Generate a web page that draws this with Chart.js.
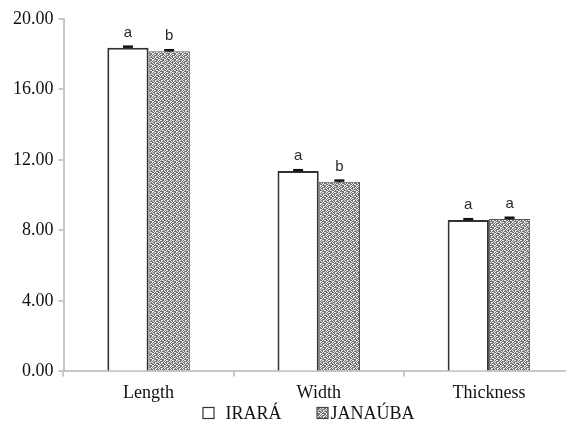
<!DOCTYPE html>
<html>
<head>
<meta charset="utf-8">
<script src="https://cdn.jsdelivr.net/npm/chart.js@4"></script>
<style>
  html, body { margin: 0; padding: 0; background: #fff; overflow: hidden; }
  #wrap { width: 590px; height: 422px; }
</style>
</head>
<body>
<div id="wrap"><canvas id="sizeChart" width="590" height="422"></canvas></div>
<script>
const categories = ['Length', 'Width', 'Thickness'];
const iraraValues = [18.37, 11.38, 8.59];
const janaubaValues = [18.17, 10.77, 8.65];
const iraraErrors = [0.06, 0.04, 0.05];
const janaubaErrors = [0.06, 0.06, 0.07];
const iraraLetters = ['a', 'a', 'a'];
const janaubaLetters = ['b', 'b', 'a'];
const yTicks = [0, 4, 8, 12, 16, 20];
const seriesNames = ['IRARÁ', 'JANAÚBA'];

// patterned fill for the second series
function makePattern() {
    const tile = document.createElement('canvas');
    tile.width = 6;
    tile.height = 6;
    const c = tile.getContext('2d');
    const map = [
        '110100',
        '101011',
        '010110',
        '111010',
        '001101',
        '110011'
    ];
    for (let y = 0; y < 6; y++) {
        for (let x = 0; x < 6; x++) {
            c.fillStyle = map[y][x] === '1' ? '#747474' : '#ececec';
            c.fillRect(x, y, 1, 1);
        }
    }
    return c.createPattern(tile, 'repeat');
}
const grayPattern = makePattern();

const serifFont = { family: '"Liberation Serif", "DejaVu Serif", serif', size: 18 };

// small error caps + significance letters on top of each bar, plus legend row
const errorAndLetters = {
    id: 'errorAndLetters',
    afterDatasetsDraw(chart) {
        const ctx = chart.ctx;
        const yScale = chart.scales.y;
        const errs = [iraraErrors, janaubaErrors];
        const letters = [iraraLetters, janaubaLetters];
        chart.data.datasets.forEach((ds, i) => {
            const meta = chart.getDatasetMeta(i);
            meta.data.forEach((bar, j) => {
                const v = ds.data[j];
                const yHi = yScale.getPixelForValue(v + errs[i][j]);
                const yLo = yScale.getPixelForValue(v - errs[i][j]);
                ctx.save();
                ctx.strokeStyle = '#111';
                ctx.lineWidth = 1;
                ctx.beginPath();
                ctx.moveTo(bar.x, yLo);
                ctx.lineTo(bar.x, yHi);
                ctx.stroke();
                ctx.lineWidth = 2.5;
                ctx.beginPath();
                ctx.moveTo(bar.x - 5, yHi);
                ctx.lineTo(bar.x + 5, yHi);
                ctx.stroke();
                ctx.fillStyle = '#2a2a2a';
                ctx.font = '15px "Liberation Sans", "DejaVu Sans", sans-serif';
                ctx.textAlign = 'center';
                ctx.textBaseline = 'middle';
                ctx.fillText(letters[i][j], bar.x, bar.y - 15);
                ctx.restore();
            });
        });
    },
    afterDraw(chart) {
        const ctx = chart.ctx;
        const left = chart.chartArea.left;
        const y = 413;
        ctx.save();
        ctx.font = '18px "Liberation Serif", "DejaVu Serif", serif';
        ctx.textBaseline = 'middle';
        ctx.textAlign = 'left';
        // IRARÁ
        ctx.fillStyle = '#fff';
        ctx.fillRect(left + 139.5, y - 5.5, 11, 11);
        ctx.strokeStyle = '#333';
        ctx.lineWidth = 1.2;
        ctx.strokeRect(left + 139.5, y - 5.5, 11, 11);
        ctx.fillStyle = '#111';
        ctx.fillText(seriesNames[0], left + 162, y + 1);
        // JANAÚBA
        ctx.fillStyle = grayPattern;
        ctx.fillRect(left + 253.5, y - 5.5, 11, 11);
        ctx.strokeStyle = '#444';
        ctx.strokeRect(left + 253.5, y - 5.5, 11, 11);
        ctx.fillStyle = '#111';
        ctx.fillText(seriesNames[1], left + 267, y + 1);
        ctx.restore();
    }
};

new Chart(document.getElementById('sizeChart'), {
    type: 'bar',
    data: {
        labels: categories,
        datasets: [
            {
                label: seriesNames[0],
                data: iraraValues,
                backgroundColor: '#ffffff',
                borderColor: '#333333',
                borderWidth: 2,
                borderSkipped: 'bottom',
                categoryPercentage: 0.485,
                barPercentage: 1
            },
            {
                label: seriesNames[1],
                data: janaubaValues,
                backgroundColor: grayPattern,
                borderColor: '#555555',
                borderWidth: 1,
                borderSkipped: 'bottom',
                categoryPercentage: 0.485,
                barPercentage: 1
            }
        ]
    },
    options: {
        responsive: false,
        animation: false,
        layout: {
            padding: { top: 19, left: 8, right: 16, bottom: 12 }
        },
        plugins: {
            legend: { display: false },
            tooltip: { enabled: false }
        },
        scales: {
            x: {
                grid: {
                    display: true,
                    drawOnChartArea: false,
                    drawTicks: true,
                    tickLength: 5,
                    color: '#c8c8c8',
                    lineWidth: 2
                },
                border: { color: '#c8c8c8', width: 2 },
                ticks: { font: serifFont, color: '#111', padding: 6 }
            },
            y: {
                min: 0,
                max: 20,
                afterBuildTicks(axis) {
                    axis.ticks = yTicks.map(v => ({ value: v }));
                },
                grid: {
                    display: true,
                    drawOnChartArea: false,
                    drawTicks: true,
                    tickLength: 5,
                    color: '#c8c8c8',
                    lineWidth: 2
                },
                border: { color: '#c8c8c8', width: 2 },
                ticks: {
                    font: serifFont,
                    color: '#111',
                    padding: 5,
                    callback: v => Number(v).toFixed(2)
                }
            }
        }
    },
    plugins: [errorAndLetters]
});
</script>
</body>
</html>
